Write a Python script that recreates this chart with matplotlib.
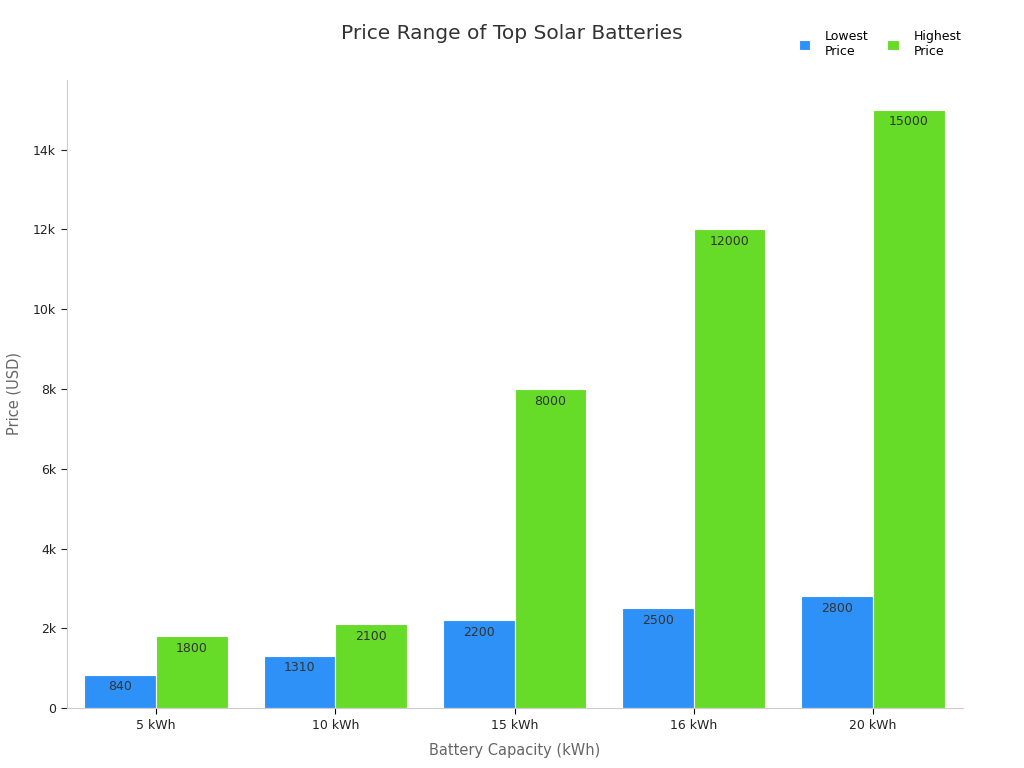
import numpy as np
import matplotlib.pyplot as plt
from matplotlib.ticker import FuncFormatter

categories = ["5 kWh", "10 kWh", "15 kWh", "16 kWh", "20 kWh"]
lowest = [840, 1310, 2200, 2500, 2800]
highest = [1800, 2100, 8000, 12000, 15000]

blue = "#2e91f8"
green = "#66dc28"

fig = plt.figure(figsize=(10.24, 7.68), dpi=100)
ax = fig.add_axes([0.065, 0.078, 0.875, 0.818])

x = np.arange(len(categories))
w = 0.4
b1 = ax.bar(x - w/2, lowest, w, color=blue, edgecolor="white", linewidth=0.8, label="Lowest\nPrice")
b2 = ax.bar(x + w/2, highest, w, color=green, edgecolor="white", linewidth=0.8, label="Highest\nPrice")

for bars, vals in [(b1, lowest), (b2, highest)]:
    for r, v in zip(bars, vals):
        ax.annotate(str(v), (r.get_x() + r.get_width()/2, v), xytext=(0, -4),
                    textcoords="offset points", ha="center", va="top",
                    fontsize=9, color="#333333")

ax.set_xlim(-0.5, 4.5)
ax.set_ylim(0, 15750)
ax.set_xticks(x)
ax.set_xticklabels(categories, fontsize=9, color="#222222")
ax.set_yticks(np.arange(0, 15000, 2000))
ax.yaxis.set_major_formatter(FuncFormatter(lambda v, p: "0" if v == 0 else f"{int(v/1000)}k"))
ax.tick_params(axis="y", labelsize=9, colors="#222222", length=4)
ax.tick_params(axis="x", length=4)
for t in ax.get_yticklines() + ax.get_xticklines():
    t.set_color("#555555")

for s in ["top", "right"]:
    ax.spines[s].set_visible(False)
for s in ["left", "bottom"]:
    ax.spines[s].set_color("#cccccc")

ax.set_xlabel("Battery Capacity (kWh)", fontsize=10.5, color="#666666", labelpad=8)
ax.set_ylabel("Price (USD)", fontsize=10.5, color="#666666", labelpad=8)
fig.text(0.5, 0.957, "Price Range of Top Solar Batteries", ha="center", va="center",
         fontsize=14.5, color="#333333")

fig.legend(handles=[b1, b2], loc="upper right", bbox_to_anchor=(0.95, 0.975), ncol=2,
           frameon=False, fontsize=9, handlelength=0.9, handleheight=0.9,
           columnspacing=1.5, handletextpad=1.2)

fig.savefig("out.png", dpi=100)
